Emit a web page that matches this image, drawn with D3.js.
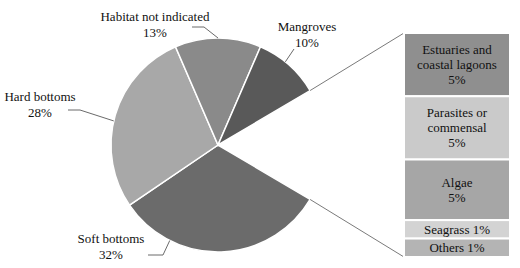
<!DOCTYPE html>
<html><head><meta charset="utf-8">
<script src="https://cdn.jsdelivr.net/npm/d3@7"></script>
<style>html,body{margin:0;padding:0;background:#fff;}svg{display:block;}
text{font-family:"Liberation Serif","Times New Roman",Times,"DejaVu Serif",serif;font-size:13px;fill:#111;}</style>
</head><body>
<svg id="chart" width="520" height="268"></svg>
<script>
// ---- data ----
const pieCategories = ["Other", "Soft bottoms", "Hard bottoms", "Habitat not indicated", "Mangroves"];
const pieValues = [17, 32, 28, 13, 10];
const barCategories = ["Estuaries and coastal lagoons", "Parasites or commensal", "Algae", "Seagrass", "Others"];
const barValues = [4.8, 4.8, 4.6, 1.4, 1.4];
const barLabelLines = [["Estuaries and", "coastal lagoons", "5%"], ["Parasites or", "commensal", "5%"], ["Algae", "5%"], ["Seagrass 1%"], ["Others 1%"]];

// ---- styling / layout ----
const pieColors = {"Soft bottoms": "#6b6b6b", "Hard bottoms": "#a8a8a8", "Habitat not indicated": "#8a8a8a", "Mangroves": "#595959"};
const barColors = ["#8f8f8f", "#cacaca", "#a6a6a6", "#d3d3d3", "#b4b4b4"];
const cx = 218, cy = 145, R = 107;
const barX0 = 404, barX1 = 510, barTop = 33, barBottom = 257;

const svg = d3.select("#chart");
const total = d3.sum(pieValues);
const otherFrac = pieValues[0] / total;
const start = Math.PI / 2 - otherFrac * Math.PI;
const pie = d3.pie().sort(null).value(d => d).startAngle(start).endAngle(start + 2 * Math.PI);
const arcs = pie(pieValues);
const arc = d3.arc().innerRadius(0).outerRadius(R);

const g = svg.append("g").attr("transform", `translate(${cx},${cy})`);
g.selectAll("path").data(arcs.slice(1)).join("path")
  .attr("d", arc)
  .attr("fill", (d, i) => pieColors[pieCategories[i + 1]])
  .attr("stroke", "#fff").attr("stroke-width", 1.5);

// connectors
const pt = a => [cx + R * Math.sin(a), cy - R * Math.cos(a)];
const p0 = pt(arcs[0].startAngle), p1 = pt(arcs[0].endAngle);
svg.append("line").attr("x1", p0[0]).attr("y1", p0[1]).attr("x2", barX0).attr("y2", barTop)
  .attr("stroke", "#7a7a7a").attr("stroke-width", 1);
svg.append("line").attr("x1", p1[0]).attr("y1", p1[1]).attr("x2", barX0).attr("y2", barBottom)
  .attr("stroke", "#7a7a7a").attr("stroke-width", 1);

// bar of pie
const y = d3.scaleLinear().domain([0, d3.sum(barValues)]).range([barTop, barBottom]);
const cum = d3.cumsum(barValues);
const segs = barValues.map((v, i) => ({y0: y(cum[i] - v), y1: y(cum[i]), i}));
svg.selectAll("rect.seg").data(segs).join("rect").attr("class", "seg")
  .attr("x", barX0).attr("width", barX1 - barX0)
  .attr("y", d => d.y0).attr("height", d => d.y1 - d.y0)
  .attr("fill", d => barColors[d.i]).attr("stroke", "#fff").attr("stroke-width", 2);

const lh = 15;
segs.forEach(s => {
  const lines = barLabelLines[s.i];
  const mid = (s.y0 + s.y1) / 2;
  const first = mid - (lines.length - 1) * lh / 2 + 4.5;
  const t = svg.append("text").attr("text-anchor", "middle");
  lines.forEach((l, k) => t.append("tspan").attr("x", (barX0 + barX1) / 2).attr("y", first + k * lh).text(l));
});

// pie labels
const labelLayout = {
  "Habitat not indicated": {x: 155, y: 21, leader: [[192, 27], [204, 27]], ang: 0},
  "Mangroves": {x: 307, y: 31, leader: [[294, 49]], ang: 39},
  "Hard bottoms": {x: 40, y: 101, leader: [[68, 110], [80, 110]], ang: -77},
  "Soft bottoms": {x: 111, y: 243, leader: [[148, 255], [163, 255]], ang: 206.8}
};
arcs.slice(1).forEach((a, i) => {
  const name = pieCategories[i + 1];
  const L = labelLayout[name];
  const pts = L.leader.concat([pt(L.ang * Math.PI / 180)]);
  svg.append("polyline").attr("points", pts.map(p => p.join(",")).join(" "))
    .attr("fill", "none").attr("stroke", "#595959").attr("stroke-width", 0.9);
  const t = svg.append("text").attr("text-anchor", "middle");
  t.append("tspan").attr("x", L.x).attr("y", L.y).text(name);
  t.append("tspan").attr("x", L.x).attr("y", L.y + 16).text(Math.round(a.data / total * 100) + "%");
});
</script>
</body></html>
